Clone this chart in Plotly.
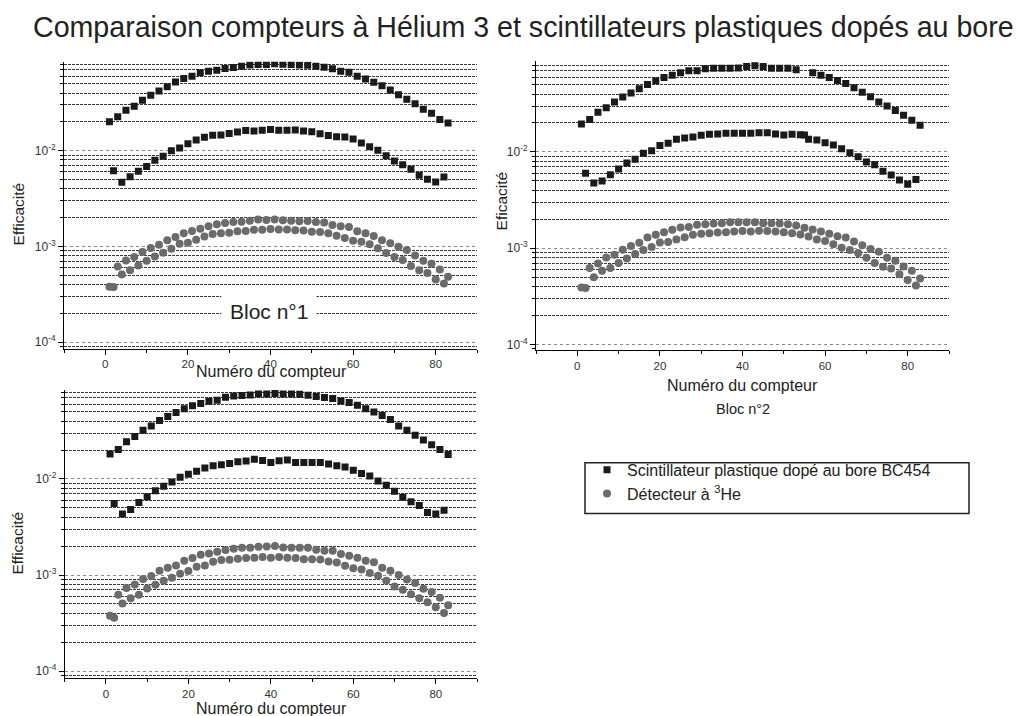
import plotly.graph_objects as go

# ---------------- data ----------------
x_odd = list(range(1, 84, 2))    # counters 1,3,...,83
x_even = list(range(2, 83, 2))   # counters 2,4,...,82

# Bloc 1
b1_sq_odd = [0.0200, 0.0226, 0.0265, 0.0291, 0.0336, 0.0380, 0.0420, 0.0464, 0.0523, 0.0567,
             0.0600, 0.0650, 0.0677, 0.0694, 0.0721, 0.0738, 0.0760, 0.0785, 0.0795, 0.0795,
             0.0807, 0.0800, 0.0795, 0.0785, 0.0780, 0.0760, 0.0745, 0.0716, 0.0677, 0.0660,
             0.0600, 0.0560, 0.0520, 0.0476, 0.0430, 0.0383, 0.0345, 0.0310, 0.0270, 0.0246,
             0.0211, 0.0195]
b1_sq_even = [0.00618, 0.00467, 0.00535, 0.00608, 0.00681, 0.00793, 0.00873, 0.0100, 0.01067, 0.01184,
              0.01294, 0.0138, 0.0145, 0.0146, 0.01507, 0.0157, 0.0162, 0.0160, 0.0163, 0.0166,
              0.0163, 0.0163, 0.0164, 0.0160, 0.0158, 0.0150, 0.01437, 0.0140, 0.0139, 0.01325,
              0.01205, 0.0110, 0.0101, 0.00887, 0.0078, 0.00714, 0.00638, 0.00553, 0.00502, 0.00471,
              0.0053]
b1_he_odd = [3.78e-4, 6.17e-4, 7.13e-4, 7.73e-4, 8.72e-4, 9.60e-4, 1.04e-3, 1.155e-3, 1.25e-3, 1.37e-3,
             1.445e-3, 1.53e-3, 1.62e-3, 1.70e-3, 1.75e-3, 1.80e-3, 1.81e-3, 1.85e-3, 1.91e-3, 1.88e-3,
             1.91e-3, 1.87e-3, 1.85e-3, 1.83e-3, 1.84e-3, 1.80e-3, 1.77e-3, 1.67e-3, 1.62e-3, 1.59e-3,
             1.435e-3, 1.37e-3, 1.28e-3, 1.16e-3, 1.08e-3, 9.9e-4, 9.15e-4, 8.04e-4, 7.08e-4, 6.58e-4,
             5.74e-4, 4.81e-4]
b1_he_even = [3.76e-4, 5.09e-4, 5.61e-4, 6.32e-4, 7.08e-4, 7.85e-4, 8.58e-4, 9.45e-4, 1.066e-3, 1.09e-3,
              1.17e-3, 1.27e-3, 1.345e-3, 1.37e-3, 1.39e-3, 1.435e-3, 1.445e-3, 1.49e-3, 1.49e-3, 1.52e-3,
              1.50e-3, 1.50e-3, 1.47e-3, 1.46e-3, 1.42e-3, 1.41e-3, 1.37e-3, 1.29e-3, 1.22e-3, 1.145e-3,
              1.12e-3, 1.05e-3, 9.53e-4, 8.51e-4, 7.73e-4, 7.19e-4, 6.22e-4, 5.61e-4, 5.26e-4, 4.51e-4,
              4.10e-4]

# Bloc 2
b2_sq_odd = [0.0195, 0.0218, 0.0258, 0.0288, 0.0330, 0.0372, 0.0409, 0.0453, 0.0503, 0.0549,
             0.0594, 0.0628, 0.0665, 0.0697, 0.0700, 0.0731, 0.0743, 0.0743, 0.0743, 0.0746,
             0.0773, 0.0785, 0.0773, 0.0743, 0.0743, 0.0743, 0.0714, 0.0150, 0.0665, 0.0628,
             0.0594, 0.0553, 0.0515, 0.0464, 0.0418, 0.0375, 0.0330, 0.0300, 0.0270, 0.0240,
             0.0213, 0.0190]
b2_sq_even = [0.0060, 0.00476, 0.00499, 0.00581, 0.00665, 0.00768, 0.00838, 0.00967, 0.0103, 0.0117,
              0.0123, 0.01352, 0.01396, 0.0143, 0.01487, 0.01524, 0.01535, 0.0156, 0.0156, 0.0156,
              0.0156, 0.01585, 0.01585, 0.01535, 0.0150, 0.01524, 0.0151, 0.01352, 0.0133, 0.01248,
              0.0118, 0.0108, 0.00983, 0.00893, 0.00787, 0.00738, 0.00629, 0.00577, 0.00512, 0.00461,
              0.00516]
b2_he_odd = [3.91e-4, 6.21e-4, 6.94e-4, 8.0e-4, 8.53e-4, 9.61e-4, 1.05e-3, 1.136e-3, 1.29e-3, 1.375e-3,
             1.466e-3, 1.55e-3, 1.64e-3, 1.66e-3, 1.75e-3, 1.77e-3, 1.80e-3, 1.81e-3, 1.86e-3, 1.86e-3,
             1.86e-3, 1.86e-3, 1.82e-3, 1.82e-3, 1.80e-3, 1.77e-3, 1.72e-3, 1.63e-3, 1.56e-3, 1.49e-3,
             1.41e-3, 1.33e-3, 1.29e-3, 1.17e-3, 1.07e-3, 9.77e-4, 9.17e-4, 7.94e-4, 7.39e-4, 6.46e-4,
             5.82e-4, 4.85e-4]
b2_he_even = [3.85e-4, 4.97e-4, 5.82e-4, 6.21e-4, 7.0e-4, 7.82e-4, 8.67e-4, 9.54e-4, 1.03e-3, 1.145e-3,
              1.16e-3, 1.23e-3, 1.30e-3, 1.375e-3, 1.41e-3, 1.43e-3, 1.455e-3, 1.466e-3, 1.49e-3, 1.51e-3,
              1.49e-3, 1.52e-3, 1.51e-3, 1.49e-3, 1.466e-3, 1.43e-3, 1.39e-3, 1.32e-3, 1.23e-3, 1.19e-3,
              1.10e-3, 1.01e-3, 9.54e-4, 8.88e-4, 7.94e-4, 7.0e-4, 6.4e-4, 6.15e-4, 5.37e-4, 4.66e-4,
              4.10e-4]

# Bloc 3
b3_sq_odd = [0.01816, 0.0203, 0.0244, 0.0277, 0.0322, 0.0357, 0.0406, 0.0447, 0.0491, 0.0537,
             0.0577, 0.0610, 0.0645, 0.0660, 0.0709, 0.0732, 0.0738, 0.0750, 0.0768, 0.0768,
             0.0774, 0.0768, 0.0768, 0.0762, 0.0744, 0.0721, 0.0704, 0.0687, 0.0650, 0.0624,
             0.0586, 0.0537, 0.0499, 0.0457, 0.0416, 0.0355, 0.0322, 0.0286, 0.0254, 0.0227,
             0.0203, 0.0180]
b3_sq_even = [0.00554, 0.00433, 0.0048, 0.00568, 0.00655, 0.00756, 0.00838, 0.0093, 0.0104, 0.01117,
              0.0120, 0.0130, 0.01374, 0.01407, 0.01452, 0.0151, 0.01536, 0.0160, 0.0156, 0.01488,
              0.0155, 0.01574, 0.01488, 0.01488, 0.01488, 0.01488, 0.0143, 0.01374, 0.0133, 0.0123,
              0.01143, 0.01074, 0.00953, 0.00859, 0.00744, 0.00644, 0.00581, 0.00528, 0.00447, 0.00433,
              0.00472]
b3_he_odd = [3.78e-4, 6.24e-4, 7.32e-4, 7.99e-4, 9.08e-4, 9.75e-4, 1.108e-3, 1.19e-3, 1.26e-3, 1.41e-3,
             1.50e-3, 1.625e-3, 1.68e-3, 1.75e-3, 1.82e-3, 1.875e-3, 1.92e-3, 1.92e-3, 1.97e-3, 1.98e-3,
             2.0e-3, 1.94e-3, 1.92e-3, 1.92e-3, 1.92e-3, 1.83e-3, 1.79e-3, 1.79e-3, 1.66e-3, 1.585e-3,
             1.51e-3, 1.41e-3, 1.36e-3, 1.19e-3, 1.108e-3, 9.99e-4, 9.0e-4, 8.25e-4, 7.21e-4, 6.65e-4,
             5.81e-4, 4.84e-4]
b3_he_even = [3.6e-4, 5.04e-4, 5.72e-4, 6.24e-4, 7.26e-4, 7.93e-4, 8.73e-4, 9.37e-4, 1.03e-3, 1.10e-3,
              1.22e-3, 1.26e-3, 1.375e-3, 1.43e-3, 1.44e-3, 1.475e-3, 1.50e-3, 1.51e-3, 1.54e-3, 1.51e-3,
              1.54e-3, 1.51e-3, 1.50e-3, 1.46e-3, 1.46e-3, 1.45e-3, 1.385e-3, 1.35e-3, 1.25e-3, 1.18e-3,
              1.14e-3, 1.047e-3, 9.83e-4, 8.73e-4, 7.62e-4, 7.04e-4, 6.3e-4, 5.72e-4, 5.2e-4, 4.61e-4,
              4.03e-4]

title_text = "Comparaison compteurs à Hélium 3 et scintillateurs plastiques dopés au bore"
name_sq = "Scintillateur plastique dopé au bore BC454"
name_he = "Détecteur à <sup>3</sup>He"
major_vals = [1e-4, 1e-3, 1e-2]
major_text = ["10<sup>-4</sup>", "10<sup>-3</sup>", "10<sup>-2</sup>"]
minor_vals = [9e-5] + [k * 1e-4 for k in range(2, 10)] + [k * 1e-3 for k in range(2, 10)] + [k * 1e-2 for k in range(2, 10)]

# ---------------- figure ----------------
W, H = 1026, 716
FONT = "Liberation Sans, Arial, sans-serif"

def px(x):
    return x / W

def py(y):
    return 1 - y / H

panels = [
    # (data, x-domain px, y-domain px (top,bottom), yrange)
    ((b1_sq_odd, b1_sq_even, b1_he_odd, b1_he_even), (56, 469), (54, 341.5), (-4.068, -1.072)),
    ((b2_sq_odd, b2_sq_even, b2_he_odd, b2_he_even), (528, 941), (52.7, 342.7), (-4.056, -1.05)),
    ((b3_sq_odd, b3_sq_even, b3_he_odd, b3_he_even), (56.7, 469), (383, 671.7), (-4.07, -1.073)),
]

fig = go.Figure()
layout_axes = {}
for i, (data, (xl, xr), (yt, yb), yr) in enumerate(panels):
    n = i + 1
    xa = "x" if n == 1 else f"x{n}"
    ya = "y" if n == 1 else f"y{n}"
    sq_odd, sq_even, he_odd, he_even = data
    fig.add_trace(go.Scatter(
        x=x_odd + x_even, y=sq_odd + sq_even, mode="markers", name=name_sq,
        marker=dict(symbol="square", size=7, color="#1a1a1a"),
        xaxis=xa, yaxis=ya, showlegend=(n == 1), legendrank=1))
    fig.add_trace(go.Scatter(
        x=x_odd + x_even, y=he_odd + he_even, mode="markers", name=name_he,
        marker=dict(symbol="circle", size=8, color="#6b6b6b"),
        xaxis=xa, yaxis=ya, showlegend=(n == 1), legendrank=2))
    xkey = "xaxis" if n == 1 else f"xaxis{n}"
    ykey = "yaxis" if n == 1 else f"yaxis{n}"
    layout_axes[xkey] = dict(
        domain=[px(xl), px(xr)], anchor=ya, range=[-10, 90],
        tickmode="linear", tick0=0, dtick=20, ticks="outside", ticklen=5,
        tickcolor="black", showline=True, linecolor="black", linewidth=1,
        showgrid=False, zeroline=False,
        tickfont=dict(size=11.5, color="#333333", family=FONT),
        minor=dict(tickmode="linear", tick0=0, dtick=10, ticks="outside", ticklen=3,
                   tickcolor="black", showgrid=False),
    )
    layout_axes[ykey] = dict(
        domain=[py(yb), py(yt)], anchor=xa, type="log", range=list(yr),
        tickmode="array", tickvals=major_vals, ticktext=major_text,
        ticks="outside", ticklen=5, tickcolor="black",
        showline=True, linecolor="black", linewidth=1,
        showgrid=True, gridcolor="#8a8a8a", griddash="dot", gridwidth=1,
        zeroline=False,
        tickfont=dict(size=12, color="#333333", family=FONT),
        minor=dict(tickmode="array", tickvals=minor_vals, ticks="outside", ticklen=3,
                   tickcolor="black", showgrid=True, gridcolor="#3a3a3a",
                   griddash="3px,1px", gridwidth=1),
    )

ann = []
def text(x, y, t, size, angle=0, **kw):
    d = dict(x=px(x), y=py(y), xref="paper", yref="paper", text=t, showarrow=False,
             xanchor="center", yanchor="middle", textangle=angle,
             font=dict(size=size, color="#222222", family=FONT))
    d.update(kw)
    ann.append(d)

text(515, 19, title_text, 28.6)
# x titles
text(263, 365, "Numéro du compteur", 16)
text(734.5, 379, "Numéro du compteur", 16)
text(263, 702, "Numéro du compteur", 16)
# y titles
text(10, 207, "Efficacité", 15.5, angle=-90)
text(493, 194, "Eficacité", 15.5, angle=-90)
text(9, 537, "Efficacité", 15.5, angle=-90)
# block labels
text(260.5, 304, "Bloc n°1", 21, bgcolor="white", borderpad=8)
text(735, 402, "Bloc n°2", 14.5)

fig.update_layout(
    width=W, height=H, autosize=False,
    margin=dict(l=0, r=0, t=0, b=0),
    paper_bgcolor="white", plot_bgcolor="white",
    font=dict(family=FONT, color="#222222"),
    annotations=ann,
    showlegend=True,
    legend=dict(x=px(579), y=py(446), xanchor="left", yanchor="top",
                bgcolor="rgba(0,0,0,0)", borderwidth=0,
                font=dict(size=16, color="#222222", family=FONT),
                tracegroupgap=0),
    shapes=[dict(type="rect", xref="paper", yref="paper",
                 x0=px(577), x1=px(961), y0=py(456), y1=py(507),
                 line=dict(color="#222222", width=1.5), fillcolor="rgba(0,0,0,0)")],
    **layout_axes,
)

fig.write_html("out.html")
